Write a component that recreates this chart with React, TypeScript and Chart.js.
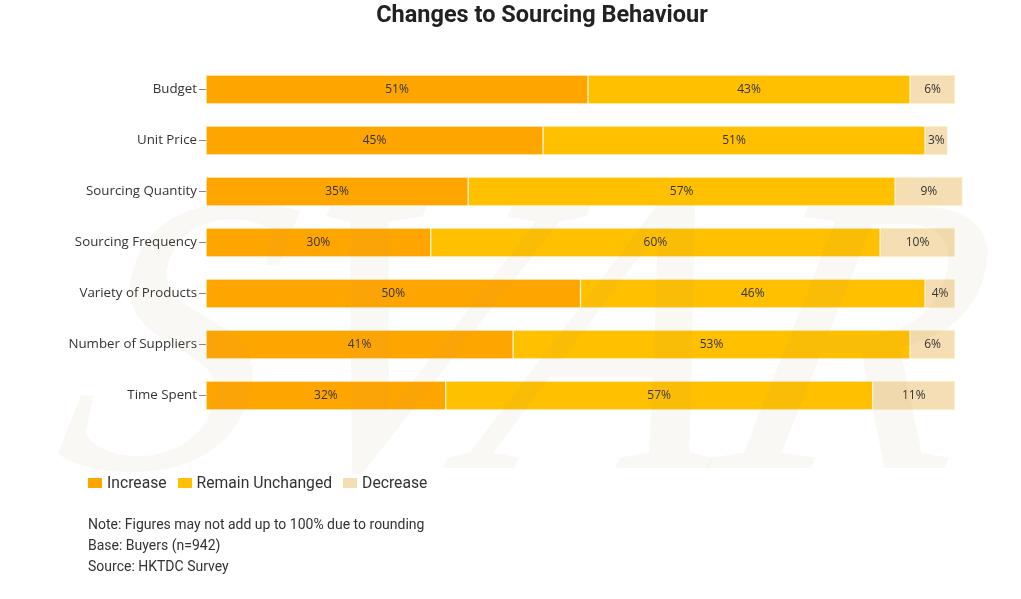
import React, { useEffect, useRef } from "react";
import { Chart, registerables } from "chart.js";

Chart.register(...registerables);

const TITLE = "Changes to Sourcing Behaviour";
const CATEGORIES = [
  "Budget",
  "Unit Price",
  "Sourcing Quantity",
  "Sourcing Frequency",
  "Variety of Products",
  "Number of Suppliers",
  "Time Spent",
];
const SERIES_NAMES = ["Increase", "Remain Unchanged", "Decrease"];
const SERIES_COLORS = ["#FFA500", "#FFC000", "#F5DEB3"];
const INCREASE = [51, 45, 35, 30, 50, 41, 32];
const UNCHANGED = [43, 51, 57, 60, 46, 53, 57];
const DECREASE = [6, 3, 9, 10, 4, 6, 11];
const NOTES = [
  "Note: Figures may not add up to 100% due to rounding",
  "Base: Buyers (n=942)",
  "Source: HKTDC Survey",
];
const WATERMARK = "SVAR";

const SERIES_VALUES = [INCREASE, UNCHANGED, DECREASE];

// Writes each segment's percentage at the centre of its bar
const valueLabels = {
  id: "valueLabels",
  afterDatasetsDraw(chart: any) {
    const ctx = chart.ctx;
    ctx.save();
    ctx.font = "12px 'Open Sans', sans-serif";
    ctx.fillStyle = "#333333";
    ctx.textAlign = "center";
    ctx.textBaseline = "middle";
    chart.data.datasets.forEach((ds: any, di: number) => {
      const meta = chart.getDatasetMeta(di);
      meta.data.forEach((bar: any, i: number) => {
        const { x, y, base } = bar.getProps(["x", "y", "base"], true);
        ctx.fillText(`${ds.data[i]}%`, (x + base) / 2, y + 0.5);
      });
    });
    ctx.restore();
  },
};

// Faint slanted lettering laid over the whole canvas
const watermark = {
  id: "watermark",
  afterDraw(chart: any) {
    const ctx = chart.ctx;
    ctx.save();
    ctx.translate(0, 468);
    ctx.transform(1, 0, -0.22, 1, 0, 0);
    ctx.font = "italic 400px 'Liberation Serif', serif";
    ctx.fillStyle = "rgba(190, 150, 100, 0.07)";
    ctx.textAlign = "left";
    ctx.textBaseline = "alphabetic";
    ctx.fillText(WATERMARK, 50, 0);
    ctx.restore();
  },
};

export default function App() {
  const canvasRef = useRef<HTMLCanvasElement | null>(null);

  useEffect(() => {
    if (!canvasRef.current) return;
    const chart = new Chart(canvasRef.current, {
      type: "bar",
      data: {
        labels: CATEGORIES,
        datasets: SERIES_NAMES.map((name, k) => ({
          label: name,
          data: SERIES_VALUES[k],
          backgroundColor: SERIES_COLORS[k],
          borderColor: "rgba(255, 236, 170, 0.55)",
          borderWidth: 1,
          borderSkipped: false,
          barThickness: 29,
          clip: false as any,
        })),
      },
      options: {
        indexAxis: "y",
        animation: false,
        responsive: false,
        maintainAspectRatio: false,
        layout: { padding: { left: 0, right: 66, top: 64, bottom: 178 } },
        plugins: {
          legend: { display: false },
          title: { display: false },
          tooltip: { enabled: false },
        },
        scales: {
          x: {
            stacked: true,
            display: false,
            min: 0,
            max: 100,
          },
          y: {
            stacked: true,
            border: { display: false },
            grid: {
              offset: false,
              drawOnChartArea: false,
              drawTicks: true,
              tickLength: 7,
              color: "#8a8a8a",
            },
            ticks: {
              padding: 2,
              color: "#333333",
              font: { family: "'Open Sans', sans-serif", size: 13.3 },
            },
            afterFit(scale: any) {
              scale.width = 206;
            },
          },
        },
      },
      plugins: [valueLabels, watermark],
    });
    return () => chart.destroy();
  }, []);

  return (
    <div
      style={{
        position: "absolute",
        left: 0,
        top: 0,
        width: 1021,
        height: 599,
        background: "#ffffff",
        fontFamily: "Roboto, sans-serif",
        color: "#333333",
        overflow: "hidden",
      }}
    >
      <canvas
        ref={canvasRef}
        width={1021}
        height={599}
        style={{ position: "absolute", left: 0, top: 0, width: 1021, height: 599 }}
      />
      <div
        style={{
          position: "absolute",
          left: 0,
          top: -1,
          width: 1084,
          textAlign: "center",
          fontWeight: 700,
          fontSize: 23.5,
          lineHeight: "30px",
          color: "#222222",
        }}
      >
        {TITLE}
      </div>
      <div
        style={{
          position: "absolute",
          left: 88,
          top: 472,
          display: "flex",
          alignItems: "center",
          fontSize: 15.7,
          lineHeight: "22px",
        }}
      >
        {SERIES_NAMES.map((name, k) => (
          <div key={name} style={{ display: "flex", alignItems: "center", marginRight: 11 }}>
            <span
              style={{
                display: "inline-block",
                width: 14,
                height: 10,
                background: SERIES_COLORS[k],
                marginRight: 5,
              }}
            />
            <span>{name}</span>
          </div>
        ))}
      </div>
      <div
        style={{
          position: "absolute",
          left: 88,
          top: 514,
          fontSize: 14,
          lineHeight: "21px",
        }}
      >
        {NOTES.map((line) => (
          <div key={line}>{line}</div>
        ))}
      </div>
    </div>
  );
}
